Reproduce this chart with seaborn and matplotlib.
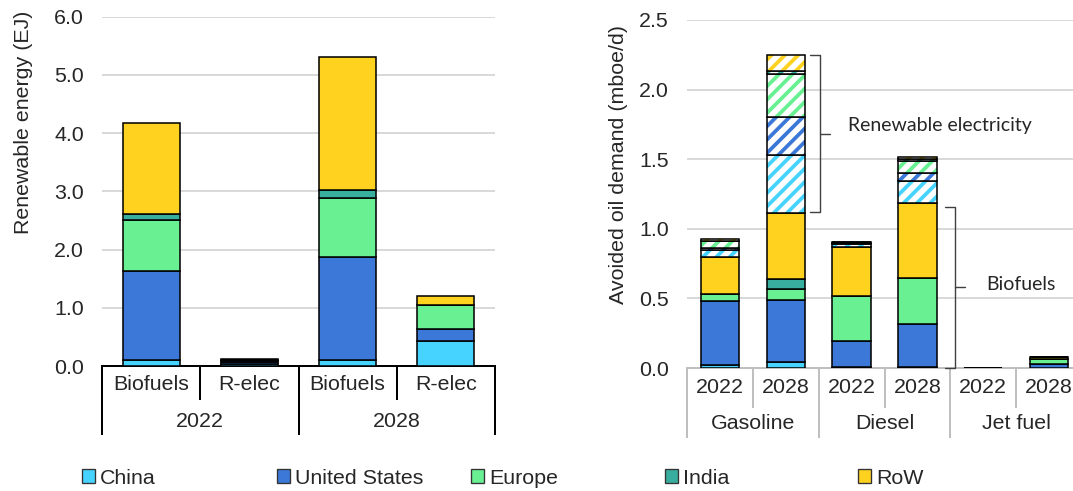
import numpy as np
import pandas as pd
import matplotlib
matplotlib.use("Agg")
import matplotlib.pyplot as plt
import matplotlib.transforms as mtransforms
from matplotlib.patches import Patch
import seaborn as sns

# ---- data -------------------------------------------------------------
regions = ["China", "United States", "Europe", "India", "RoW"]
region_colors = ["#47D3FF", "#3C78D8", "#68F092", "#38AE9F", "#FFD21F"]

# left panel: renewable energy in transport (EJ)
left_sources = ["Biofuels", "R-elec", "Biofuels", "R-elec"]
left_years = ["2022", "2028"]
left_china = [0.10, 0.04, 0.11, 0.43]
left_us = [1.54, 0.03, 1.76, 0.205]
left_europe = [0.86, 0.02, 1.01, 0.41]
left_india = [0.11, 0.02, 0.15, 0.01]
left_row = [1.57, 0.01, 2.27, 0.155]

# right panel: avoided oil demand (mboe/d)
right_years = ["2022", "2028", "2022", "2028", "2022", "2028"]
right_fuels = ["Gasoline", "Diesel", "Jet fuel"]
bio_china = [0.02, 0.04, 0.005, 0.005, 0.0, 0.002]
bio_us = [0.46, 0.45, 0.19, 0.31, 0.0, 0.025]
bio_europe = [0.05, 0.08, 0.32, 0.33, 0.0, 0.035]
bio_india = [0.005, 0.07, 0.005, 0.005, 0.0, 0.005]
bio_row = [0.26, 0.47, 0.35, 0.535, 0.003, 0.01]
elec_china = [0.055, 0.42, 0.02, 0.155, 0.0, 0.0]
elec_us = [0.015, 0.275, 0.005, 0.06, 0.0, 0.0]
elec_europe = [0.045, 0.31, 0.006, 0.09, 0.0, 0.0]
elec_india = [0.005, 0.02, 0.002, 0.015, 0.0, 0.0]
elec_row = [0.01, 0.11, 0.003, 0.01, 0.0, 0.0]

# ---- style ------------------------------------------------------------
DPI = 80
PT = 72.0 / DPI          # pixel -> point
FS = 19.2
sns.set_theme(style="white")
plt.rcParams["font.family"] = ["Liberation Sans", "DejaVu Sans"]
plt.rcParams["hatch.linewidth"] = 3.4
GRID = "#D9D9D9"
EDGE_LW = 1.4


def stack(ax, keys, layers, colors, base=None, hatched=False, width=0.58):
    bottom = np.zeros(len(keys)) if base is None else np.asarray(base, float)
    for vals, col in zip(layers, colors):
        vals = np.asarray(vals, float)
        df = pd.DataFrame({"key": keys, "val": vals})
        passes = [("hatch", col), ("outline", None)] if hatched else [("solid", col)]
        for kind, c in passes:
            n0 = len(ax.patches)
            sns.barplot(data=df, x="key", y="val", order=keys, bottom=bottom,
                        color=col, width=width, saturation=1, errorbar=None, ax=ax)
            for p in ax.patches[n0:]:
                if kind == "solid":
                    p.set_facecolor(c); p.set_edgecolor("black"); p.set_linewidth(EDGE_LW)
                elif kind == "hatch":
                    p.set_facecolor("white"); p.set_edgecolor(c)
                    p.set_hatch("//"); p.set_linewidth(0)
                else:
                    p.set_facecolor("none"); p.set_edgecolor("black"); p.set_linewidth(EDGE_LW)
                p.set_zorder(3)
        bottom = bottom + vals
    return bottom


def category_axis(ax, n, inner, outer, inner_pos, outer_y, line_color, lw):
    trans = mtransforms.blended_transform_factory(ax.transData, ax.transAxes)
    y1, y2 = inner_pos
    group = n // len(outer)
    for i in range(n + 1):
        x = i - 0.5
        bottom = y2 if i % group == 0 else y1
        ax.plot([x, x], [0, bottom], transform=trans, color=line_color,
                lw=lw, clip_on=False, solid_capstyle="butt")
    for i, lab in enumerate(inner):
        ax.text(i, outer_y[0], lab, transform=trans, ha="center", va="center",
                fontsize=FS)
    for j, lab in enumerate(outer):
        ax.text(j * group + (group - 1) / 2, outer_y[1], lab, transform=trans,
                ha="center", va="center", fontsize=FS)


fig = plt.figure(figsize=(1073 / DPI, 491 / DPI), dpi=DPI)
fig.patch.set_facecolor("white")

# ---- left panel ----------------------------------------------------------
ax1 = fig.add_axes([102 / 1073, 125 / 491, 393 / 1073, 349.3 / 491])
left_keys = [f"{y}-{s}" for y in left_years for s in left_sources[:2]]
stack(ax1, left_keys, [left_china, left_us, left_europe, left_india, left_row],
      region_colors)
ax1.set_xlim(-0.5, 3.5)
ax1.set_ylim(0, 6)
ax1.set_yticks(np.arange(0, 6.1, 1.0))
ax1.set_yticklabels([f"{v:.1f}" for v in np.arange(0, 6.1, 1.0)], fontsize=FS)
ax1.set_xticks([])
ax1.set_xlabel("")
ax1.set_ylabel("Renewable energy (EJ)", fontsize=FS)
ax1.yaxis.set_label_coords(-0.176, 0.697)
ax1.yaxis.grid(True, color=GRID, lw=2 * PT)
ax1.set_axisbelow(True)
ax1.tick_params(axis="y", length=0, pad=18 * PT)
for s in ["top", "right", "left"]:
    ax1.spines[s].set_visible(False)
ax1.spines["bottom"].set_color("black")
ax1.spines["bottom"].set_linewidth(2 * PT)
category_axis(ax1, 4, left_sources, left_years, (-0.097, -0.198),
              (-0.054, -0.160), "black", 2 * PT)

# ---- right panel ---------------------------------------------------------
ax2 = fig.add_axes([687 / 1073, 123 / 491, 395 / 1073, 348 / 491])
right_keys = [f"{f}-{y}" for f in right_fuels for y in left_years]
bio_top = stack(ax2, right_keys, [bio_china, bio_us, bio_europe, bio_india, bio_row],
                region_colors)
all_top = stack(ax2, right_keys,
                [elec_china, elec_us, elec_europe, elec_india, elec_row],
                region_colors, base=bio_top, hatched=True)
ax2.set_xlim(-0.5, 5.5)
ax2.set_ylim(0, 2.5)
ticks2 = np.arange(0, 2.51, 0.5)
ax2.set_yticks(ticks2)
ax2.set_yticklabels([f"{v:.1f}" for v in ticks2], fontsize=FS)
ax2.set_xticks([])
ax2.set_xlabel("")
ax2.set_ylabel("Avoided oil demand (mboe/d)", fontsize=FS)
ax2.yaxis.set_label_coords(-0.149, 0.586)
ax2.yaxis.grid(True, color=GRID, lw=2 * PT)
ax2.set_axisbelow(True)
ax2.tick_params(axis="y", length=0, pad=18 * PT)
for s in ["top", "right", "left"]:
    ax2.spines[s].set_visible(False)
ax2.spines["bottom"].set_color("#BFBFBF")
ax2.spines["bottom"].set_linewidth(2 * PT)
category_axis(ax2, 6, right_years, right_fuels, (-0.115, -0.20),
              (-0.055, -0.160), "#BFBFBF", 2 * PT)

# brackets
def bracket(ax, x, y0, y1, hook=0.15, tick=0.15, color="#404040"):
    ym = (y0 + y1) / 2
    ax.plot([x - hook, x, x, x - hook], [y1, y1, y0, y0], color=color,
            lw=1.4 * PT, zorder=4, clip_on=False)
    ax.plot([x, x + tick], [ym, ym], color=color, lw=1.4 * PT, zorder=4)
    return ym

gas28 = right_keys.index("Gasoline-2028")
ym = bracket(ax2, gas28 + 0.52, bio_top[gas28] + 0.01, all_top[gas28])
ax2.text(gas28 + 0.95, ym + 0.06, "Renewable electricity", fontsize=17.5,
         family=["Lato", "DejaVu Sans"], ha="left", va="center")
dsl28 = right_keys.index("Diesel-2028")
ym = bracket(ax2, dsl28 + 0.57, 0, bio_top[dsl28] - 0.025)
ax2.text(dsl28 + 1.04, ym + 0.02, "Biofuels", fontsize=17.5,
         family=["Lato", "DejaVu Sans"], ha="left", va="center")

# ---- legend ------------------------------------------------------------
legend_x = [82, 277, 471, 665, 858]
for name, col, x in zip(regions, region_colors, legend_x):
    fig.legend(handles=[Patch(facecolor=col, edgecolor="#333333", lw=1.2)],
               labels=[name], loc="center left",
               bbox_to_anchor=(x / 1073, 1 - 478 / 491), frameon=False,
               fontsize=FS, handlelength=0.6, handleheight=0.6,
               handletextpad=0.25, borderpad=0, borderaxespad=0)

fig.savefig("out.png", dpi=DPI, facecolor="white")
